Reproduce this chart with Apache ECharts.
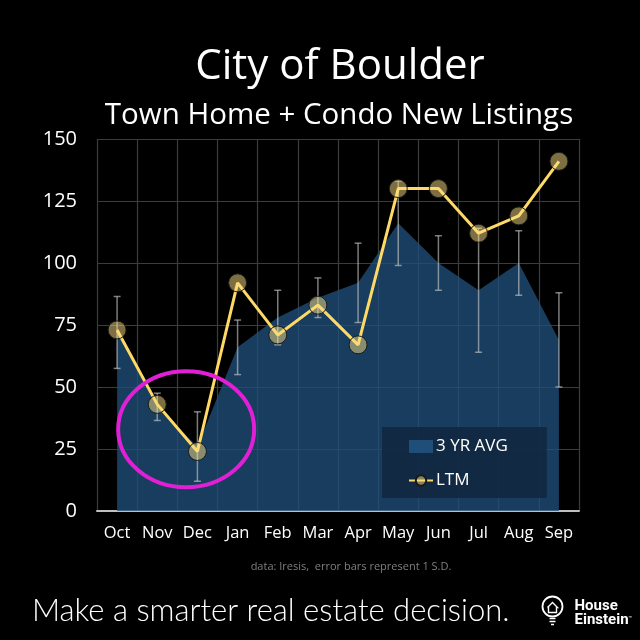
<!DOCTYPE html>
<html><head><meta charset="utf-8">
<script src="https://cdn.jsdelivr.net/npm/echarts@6/dist/echarts.min.js"></script>
<style>html,body{margin:0;padding:0;background:#000}#c{width:640px;height:640px}</style>
</head><body><div id="c"></div>
<script>
const categories = ['Oct','Nov','Dec','Jan','Feb','Mar','Apr','May','Jun','Jul','Aug','Sep'];
const avg3yr = [72, 42, 26, 66, 78, 86, 92, 116, 100, 89, 100, 69];
const sd3yr = [14.5, 5.5, 14, 11, 11, 8, 16, 17, 11, 25, 13, 19];
const ltm = [73, 43, 24, 92, 71, 83, 67, 130, 130, 112, 119, 141];
const yMin = 0, yMax = 150, yInterval = 25;
const titleText = 'City of Boulder';
const subtitleText = 'Town Home + Condo New Listings';
const sourceText = 'data: Iresis,  error bars represent 1 S.D.';
const footerText = 'Make a smarter real estate decision.';

const FONT = '"Open Sans", sans-serif';
const chart = echarts.init(document.getElementById('c'), null, {renderer:'canvas'});

const errData = categories.map((c, i) => [i, avg3yr[i], sd3yr[i]]);

const option = {
  backgroundColor: '#000',
  animation: false,
  title: [
    {text: titleText, left: 335, top: 41, textAlign: 'center',
     textStyle: {color: '#fff', fontFamily: FONT, fontSize: 42, fontWeight: 'normal'}},
    {text: subtitleText, left: 334, top: 96, textAlign: 'center',
     textStyle: {color: '#fff', fontFamily: FONT, fontSize: 29.5, fontWeight: 'normal'}},
    {text: sourceText, left: 346, top: 556, textAlign: 'center',
     textStyle: {color: '#7f7f7f', fontFamily: FONT, fontSize: 11, fontWeight: 'normal'}},
    {text: footerText, left: 27, top: 590,
     textStyle: {color: '#fff', fontFamily: 'Lato, sans-serif', fontSize: 31, fontWeight: 300}}
  ],
  grid: {left: 97, right: 61, top: 139, bottom: 129, containLabel: false},
  legend: {
    orient: 'vertical', left: 382, top: 427,
    padding: [11, 39, 9, 26], itemGap: 17, itemWidth: 24, itemHeight: 13,
    backgroundColor: 'rgba(18,38,62,0.85)',
    textStyle: {color: '#fff', fontFamily: FONT, fontSize: 17, padding: [0,0,0,-2]},
    data: [
      {name: '3 YR AVG', icon: 'rect', itemStyle: {color: '#1F4E79'}},
      {name: 'LTM'}
    ]
  },
  xAxis: {
    type: 'category', data: categories, boundaryGap: true,
    axisLine: {show: true, lineStyle: {color: '#bfbfbf', width: 2}},
    axisTick: {show: false},
    axisLabel: {color: '#fff', fontFamily: FONT, fontSize: 16.5, margin: 14, interval: 0},
    splitLine: {show: true, interval: 0, lineStyle: {color: '#3c3c3c', width: 1.2}}
  },
  yAxis: {
    type: 'value', min: yMin, max: yMax, interval: yInterval,
    axisLine: {show: false}, axisTick: {show: false},
    axisLabel: {color: '#fff', fontFamily: FONT, fontSize: 20, margin: 20},
    splitLine: {show: true, lineStyle: {color: '#3c3c3c', width: 1.2}}
  },
  series: [
    {
      name: '3 YR AVG', type: 'line', data: avg3yr, symbol: 'none', z: 1,
      lineStyle: {width: 0, color: '#1F4E79'},
      itemStyle: {color: '#1F4E79'},
      areaStyle: {color: 'rgba(31,78,121,0.78)', opacity: 1}
    },
    {
      name: 'SD', type: 'custom', z: 2, data: errData,
      encode: {x: 0, y: 1},
      renderItem: function (params, api) {
        const i = api.value(0), m = api.value(1), s = api.value(2);
        const top = api.coord([i, m + s]);
        const bot = api.coord([i, m - s]);
        const hw = 3.5;
        const st = {stroke: 'rgba(200,200,200,0.62)', lineWidth: 1.5};
        return {type: 'group', children: [
          {type: 'line', shape: {x1: top[0], y1: top[1], x2: bot[0], y2: bot[1]}, style: st},
          {type: 'line', shape: {x1: top[0]-hw, y1: top[1], x2: top[0]+hw, y2: top[1]}, style: st},
          {type: 'line', shape: {x1: bot[0]-hw, y1: bot[1], x2: bot[0]+hw, y2: bot[1]}, style: st}
        ]};
      }
    },
    {
      name: 'LTM', type: 'line', data: ltm, z: 3,
      symbol: 'circle', symbolSize: 18,
      lineStyle: {color: '#FFD966', width: 3},
      itemStyle: {color: 'rgba(250,222,130,0.5)', borderColor: '#1a1a1a', borderWidth: 1}
    }
  ]
};
chart.setOption(option);

// annotation ellipse around Nov-Dec and logo
const pNov = chart.convertToPixel({xAxisIndex: 0, yAxisIndex: 0}, ['Nov', 33]);
const pDec = chart.convertToPixel({xAxisIndex: 0, yAxisIndex: 0}, ['Dec', 33]);
const cx = pNov[0] + 0.72 * (pDec[0] - pNov[0]);
chart.setOption({
  graphic: [
    {type: 'ellipse', shape: {cx: cx, cy: pNov[1], rx: 68, ry: 58}, z: 100,
     style: {fill: 'none', stroke: '#e020d4', lineWidth: 4}},
    {type: 'group', left: 540, top: 594, children: [
      {type: 'circle', shape: {cx: 10, cy: 11, r: 10}, style: {fill: 'none', stroke: '#fff', lineWidth: 1.8}},
      {type: 'polyline', shape: {points: [[5,12],[10,7],[15,12],[14,12],[14,17],[6,17],[6,12],[5,12]]}, style: {fill: 'none', stroke: '#fff', lineWidth: 1.4}},
      {type: 'line', shape: {x1: 7, y1: 23, x2: 13, y2: 23}, style: {stroke: '#fff', lineWidth: 1.5}},
      {type: 'line', shape: {x1: 7, y1: 26, x2: 13, y2: 26}, style: {stroke: '#fff', lineWidth: 1.5}},
      {type: 'line', shape: {x1: 8.5, y1: 29, x2: 11.5, y2: 29}, style: {stroke: '#fff', lineWidth: 1.5}},
      {type: 'text', x: 32, y: 3, style: {text: 'House', fill: '#fff', font: 'bold 15px Roboto, sans-serif'}},
      {type: 'text', x: 32, y: 17, style: {text: 'Einstein', fill: '#fff', font: 'bold 15px Roboto, sans-serif'}},
      {type: 'text', x: 86, y: 20, style: {text: '™', fill: '#fff', font: '6px Roboto, sans-serif'}}
    ]}
  ]
});
</script>
</body></html>
